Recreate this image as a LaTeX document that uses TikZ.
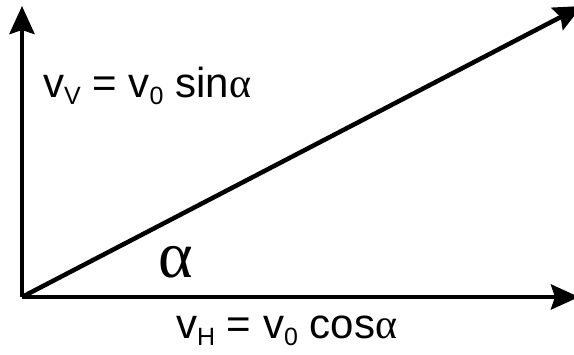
\documentclass[tikz,border=0pt]{standalone}
\usepackage{fontspec}
\usepackage{tikz}
\usetikzlibrary{arrows.meta}
\newfontfamily\labelfont{Liberation Sans}
\newfontfamily\greekfont{Liberation Serif}
\newcommand{\lowidx}[1]{\raisebox{-7pt}{\fontsize{25}{25}\selectfont #1}}
\newcommand{\galpha}{{\greekfont α}}

\begin{document}
\begin{tikzpicture}[
  x=1pt, y=-1pt,
  vec/.style={line width=4.5pt, -{Stealth[length=28pt, width=25pt, inset=4pt]}},
  lbl/.style={inner sep=0pt, anchor=base west, font=\labelfont\fontsize{42}{46}\selectfont},
  angle/.style={inner sep=0pt, anchor=base west, font=\greekfont\fontsize{66}{70}\selectfont},
]
\useasboundingbox (0,0) rectangle (574,355);

% Origin and tips
\coordinate (orig) at (22,297);
\coordinate (vtip) at (22,6);
\coordinate (htip) at (579,297);
\coordinate (rtip) at (582,6);

% Vectors
\draw[vec] (orig) -- (vtip);
\draw[vec] (orig) -- (htip);
\draw[vec] (orig) -- (rtip);

% Labels
\node[lbl] (vvert) at (43,98) {v\lowidx{V} = v\lowidx{0} sin\galpha};
\node[lbl] (vhor) at (176,339) {v\lowidx{H} = v\lowidx{0} cos\galpha};
\node[angle] (alpha) at (158,278) {α};

\end{tikzpicture}
\end{document}
